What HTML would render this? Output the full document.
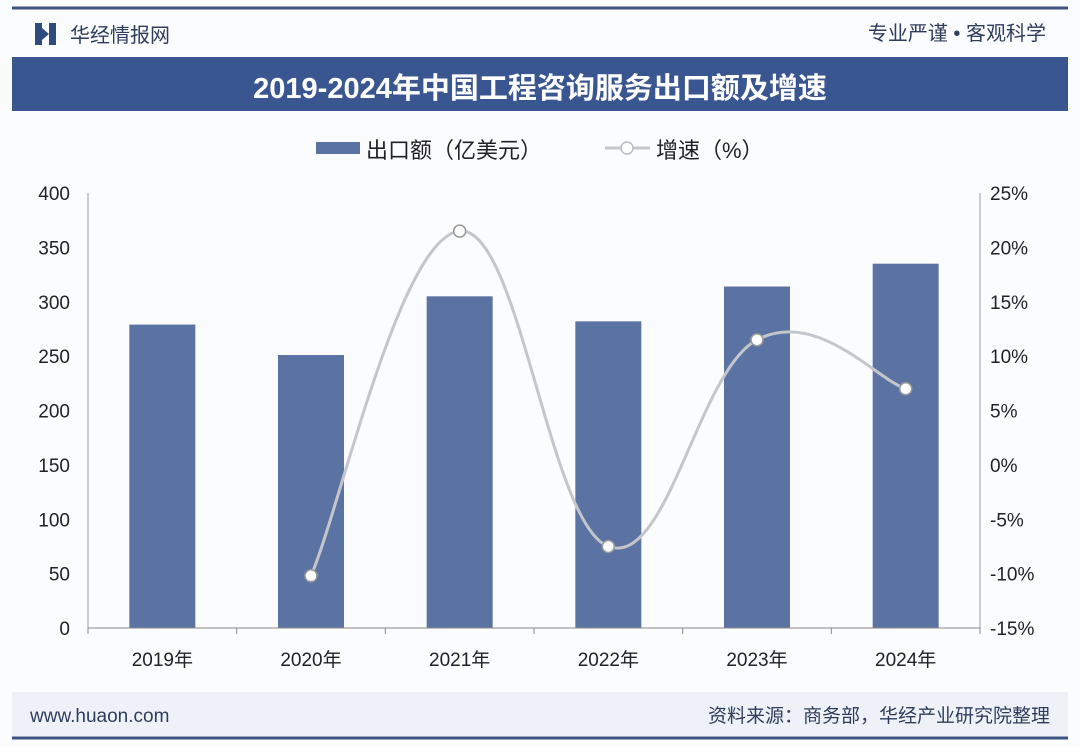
<!DOCTYPE html>
<html><head><meta charset="utf-8"><style>
body{margin:0;width:1080px;height:747px;overflow:hidden;background:#fff;font-family:"Liberation Sans","Noto Sans CJK SC",sans-serif;}
</style></head><body>
<svg width="1080" height="747" xmlns="http://www.w3.org/2000/svg" font-family="Liberation Sans, Noto Sans CJK SC, sans-serif">
<rect width="1080" height="747" fill="#fbfcfe"/>
<line x1="12" y1="8" x2="1068" y2="8" stroke="#3b5283" stroke-width="3"/>
<g><rect x="35" y="23" width="7" height="22" fill="#2f4a7d"/><rect x="49" y="23" width="7" height="22" fill="#2f4a7d"/><polygon points="42,28 49,34 42,40" fill="#2f4a7d"/></g>
<text x="70" y="42" font-size="20" fill="#2f3d5c">华经情报网</text>
<text x="1046" y="40" font-size="20" fill="#2f3d5c" text-anchor="end">专业严谨 • 客观科学</text>
<rect x="12" y="57" width="1056" height="54" fill="#3a5690"/>
<text x="540" y="98" font-size="29" font-weight="bold" fill="#fff" text-anchor="middle">2019-2024年中国工程咨询服务出口额及增速</text>
<g>
<rect x="316" y="142" width="44" height="12" fill="#5b73a3"/>
<text x="366" y="158" font-size="22" fill="#222">出口额（亿美元）</text>
<line x1="605" y1="148" x2="650" y2="148" stroke="#c4c6cb" stroke-width="3"/>
<circle cx="627" cy="148" r="6" fill="#fff" stroke="#b8bbc0" stroke-width="1.5"/>
<text x="656" y="158" font-size="22" fill="#222">增速（%）</text>
</g>
<rect x="12" y="692" width="1056" height="44" fill="#eef2f8"/>
<text x="30" y="722" font-size="19" fill="#2f3d5c">www.huaon.com</text>
<text x="1050" y="722" font-size="19" fill="#2f3d5c" text-anchor="end">资料来源：商务部，华经产业研究院整理</text>
<line x1="12" y1="738" x2="1068" y2="738" stroke="#3b5283" stroke-width="3"/>
<g id="plot"></g>
</svg>
<script>
const categories=["2019年","2020年","2021年","2022年","2023年","2024年"];
const exportValues=[279,251,305,282,314,335];
const growthValues=[null,-10.2,21.5,-7.5,11.5,7.0];
const leftTicks=[0,50,100,150,200,250,300,350,400];
const rightTicks=[-15,-10,-5,0,5,10,15,20,25];
const NS="http://www.w3.org/2000/svg";
const g=document.getElementById('plot');
const X0=88,X1=980,Y0=628,Y1=193;
const band=(X1-X0)/categories.length;
const xc=i=>X0+band*(i+0.5);
const yL=v=>Y0-(v-0)/(400-0)*(Y0-Y1);
const yR=v=>Y0-(v+15)/(40)*(Y0-Y1);
function el(t,a,txt){const e=document.createElementNS(NS,t);for(const k in a)e.setAttribute(k,a[k]);if(txt!=null)e.textContent=txt;g.appendChild(e);return e;}
let e;
leftTicks.forEach(v=>{e=el('text',{x:70,y:yL(v)+7,'font-size':19,fill:'#222','text-anchor':'end'},v);

});
rightTicks.forEach(v=>{e=el('text',{x:990,y:yR(v)+7,'font-size':19,fill:'#222'},v+'%');

});
e=el('line',{x1:X0,y1:Y1,x2:X0,y2:Y0,stroke:'#999'});


e=el('line',{x1:X1,y1:Y1,x2:X1,y2:Y0,stroke:'#999'});


exportValues.forEach((v,i)=>{e=el('rect',{x:xc(i)-33,y:yL(v),width:66,height:Y0-yL(v),fill:'#5b73a3'});

});
e=el('line',{x1:X0,y1:Y0,x2:X1,y2:Y0,stroke:'#888'});


for(let i=0;i<=categories.length;i++){e=el('line',{x1:X0+band*i,y1:Y0,x2:X0+band*i,y2:Y0+6,stroke:'#888'});

}
categories.forEach((c,i)=>{e=el('text',{x:xc(i),y:666,'font-size':19,fill:'#222','text-anchor':'middle'},c);

});
const pts=[];growthValues.forEach((v,i)=>{if(v!=null)pts.push([xc(i),yR(v)]);});
let d='M'+pts[0][0]+','+pts[0][1];
for(let i=0;i<pts.length-1;i++){const p0=pts[i-1]||pts[i],p1=pts[i],p2=pts[i+1],p3=pts[i+2]||p2;const t=0.2;
d+=' C'+(p1[0]+(p2[0]-p0[0])*t)+','+(p1[1]+(p2[1]-p0[1])*t)+' '+(p2[0]-(p3[0]-p1[0])*t)+','+(p2[1]-(p3[1]-p1[1])*t)+' '+p2[0]+','+p2[1];}
e=el('path',{d:d,fill:'none',stroke:'#c4c6cb','stroke-width':3});


pts.forEach(p=>{e=el('circle',{cx:p[0],cy:p[1],r:6,fill:'#fff',stroke:'#999','stroke-width':1.5});

});
</script>
</body></html>
